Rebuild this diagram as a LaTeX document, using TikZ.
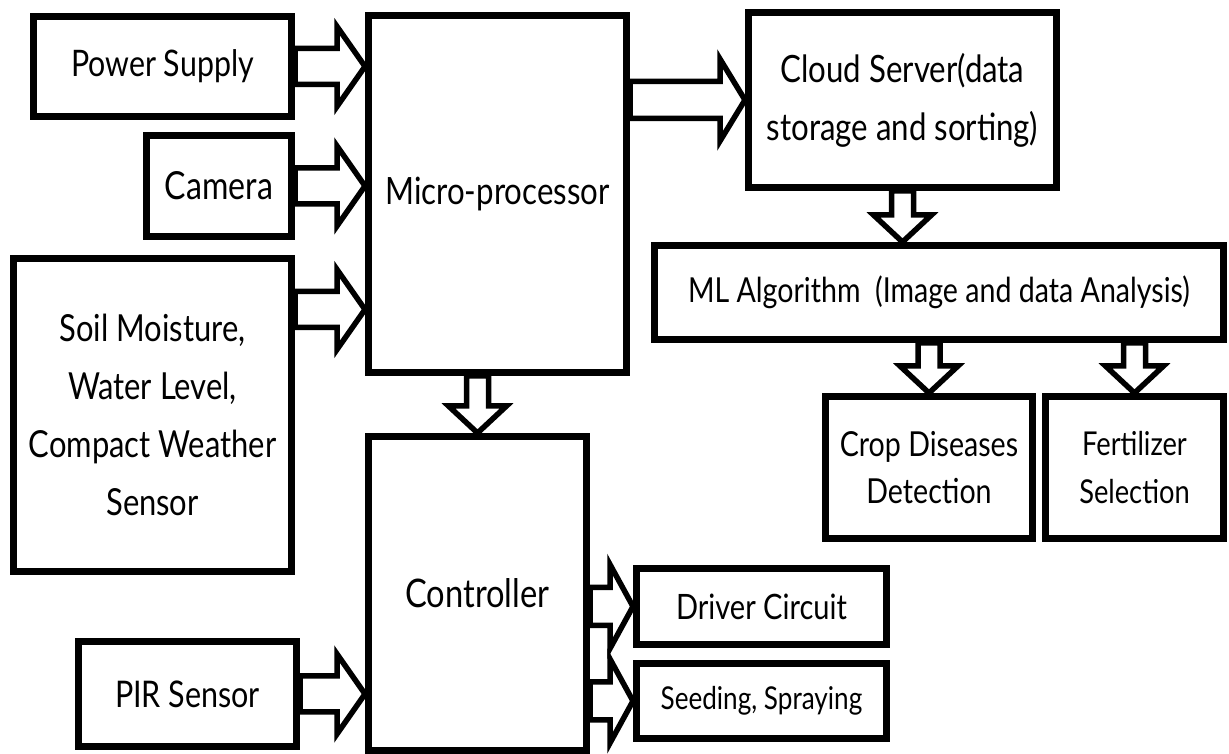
\documentclass[tikz,border=0pt]{standalone}
\usepackage{fontspec}
\setmainfont{Lato}[FakeStretch=0.83]
\usetikzlibrary{calc}
\def\fatarrow[#1](#2)(#3)(#4:#5:#6){\draw[#1] ($(#2)!#4!90:(#3)$) -- ($($(#3)!#6!(#2)$)!#4!-90:(#2)$) -- ($($(#3)!#6!(#2)$)!#5!-90:(#2)$) -- (#3) -- ($($(#3)!#6!(#2)$)!#5!90:(#2)$) -- ($($(#3)!#6!(#2)$)!#4!90:(#2)$) -- ($(#2)!#4!-90:(#3)$) -- cycle;}

\begin{document}
\begin{tikzpicture}[
    blockbox/.style={draw, line width=0.14cm, align=center, inner sep=0pt},
    txt/.style 2 args={font=\fontsize{#1}{#2}\selectfont},
    arr/.style={line width=0.11cm, fill=white, line join=miter}]
			%%%%% START %%%%%
			\useasboundingbox (0,0) rectangle (24.58,15.08);
			
			\node[blockbox, txt={20.8}{30}, minimum width=5.16cm, minimum height=2.0cm] (pw) at (3.25,13.75) {Power Supply};
			\node[blockbox, txt={22}{30}, minimum width=2.9cm, minimum height=2.02cm] (cam) at (4.38,11.36) {Camera};
			\node[blockbox, txt={21.2}{33}, minimum width=5.56cm, minimum height=6.26cm] (soil) at (3.05,6.78) {Soil Moisture,\\Water Level,\\Compact Weather\\Sensor};
			\node[blockbox, txt={20.9}{30}, minimum width=4.36cm, minimum height=2.1cm] (pir) at (3.75,1.2) {PIR Sensor};
			
			\node[blockbox, txt={21.4}{30}, minimum width=5.16cm, minimum height=7.14cm] (mp) at (9.95,11.2) {Micro-processor};
			\node[blockbox, txt={22.4}{30}, minimum width=4.36cm, minimum height=6.28cm] (ct) at (9.55,3.21) {Controller};
			
			\node[blockbox, txt={21.4}{33}, minimum width=6.16cm, minimum height=3.5cm] (cl) at (18.05,13.08) {Cloud Server(data\\storage and sorting)};
			\node[blockbox, txt={19.6}{30}, minimum width=11.38cm, minimum height=1.88cm] (ml) at (18.78,9.23) {ML Algorithm~~(Image and data Analysis)};
			\node[blockbox, txt={19.6}{27}, minimum width=4.14cm, minimum height=2.84cm] (cr) at (18.58,5.73) {Crop Diseases\\Detection};
			\node[blockbox, txt={18.7}{27}, minimum width=3.56cm, minimum height=2.84cm] (fs) at (22.69,5.73) {Fertilizer\\Selection};
			
			\node[blockbox, txt={19.9}{30}, minimum width=5.0cm, minimum height=1.52cm] (dr) at (15.23,2.95) {Driver Circuit};
			\node[blockbox, txt={17.9}{30}, minimum width=5.0cm, minimum height=1.5cm] (sd) at (15.23,1.06) {Seeding, Spraying};
			
			\coordinate (sm) at ($(soil.north east)+(0,-1.09)$);
			
			\fatarrow[arr](pw.east)(mp.west |- pw.east)(0.36cm:0.8cm:0.56cm);
			\fatarrow[arr](cam.east)(mp.west |- cam.east)(0.36cm:0.8cm:0.56cm);
			\fatarrow[arr](sm)(mp.west |- sm)(0.36cm:0.8cm:0.56cm);
			\fatarrow[arr](pir.east)(ct.west |- pir.east)(0.36cm:0.8cm:0.56cm);
			
			\fatarrow[arr](mp.east |- cl.west)(cl.west)(0.37cm:0.82cm:0.5cm);
			\fatarrow[arr](ct.east |- dr.west)(dr.west)(0.38cm:0.84cm:0.46cm);
			\fatarrow[arr](ct.east |- sd.west)(sd.west)(0.38cm:0.84cm:0.46cm);
			
			\fatarrow[arr](cl.south)(cl.south |- ml.north)(0.22cm:0.58cm:0.54cm);
			\fatarrow[arr](cr.north |- ml.south)(cr.north)(0.22cm:0.58cm:0.54cm);
			\fatarrow[arr](fs.north |- ml.south)(fs.north)(0.22cm:0.58cm:0.54cm);
			\fatarrow[arr](ct.north |- mp.south)(ct.north)(0.22cm:0.58cm:0.54cm);
			
			%%%%% END %%%%%
		\end{tikzpicture}
\end{document}
